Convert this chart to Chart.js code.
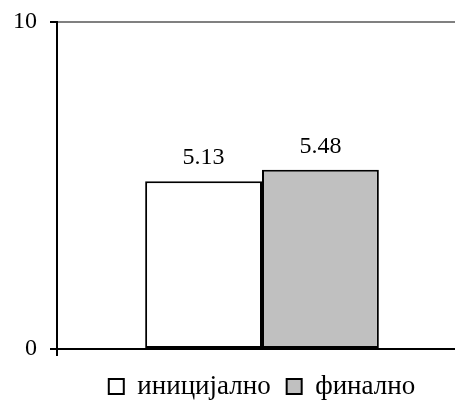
<!DOCTYPE html>
<html>
<head>
<meta charset="utf-8">
<script src="https://cdn.jsdelivr.net/npm/chart.js@4/dist/chart.umd.min.js"></script>
<style>
  html, body { margin: 0; padding: 0; background: #fff; }
  #wrap { width: 455px; height: 401px; overflow: hidden; position: relative; }
  canvas { display: block; }
</style>
</head>
<body>
<div id="wrap">
  <canvas id="myChart" width="467" height="410"></canvas>
</div>
<script>
const categories = [''];
const seriesNames = ['иницијално', 'финално'];
const seriesValues = [[5.13], [5.48]];
const seriesColors = ['#ffffff', '#c0c0c0'];
const yTicks = [0, 10];

const serif = "'Liberation Serif', 'Times New Roman', serif";

// write the value over every bar
const valueLabels = {
  id: 'valueLabels',
  afterDatasetsDraw(chart) {
    const ctx = chart.ctx;
    ctx.save();
    ctx.font = '24px ' + serif;
    ctx.fillStyle = '#000';
    ctx.textAlign = 'center';
    ctx.textBaseline = 'alphabetic';
    chart.data.datasets.forEach((ds, i) => {
      const meta = chart.getDatasetMeta(i);
      meta.data.forEach((bar, j) => {
        ctx.fillText(ds.data[j].toFixed(2), bar.x, bar.y - 17);
      });
    });
    ctx.restore();
  }
};

// center the legend under the plot area instead of the whole canvas
const legendUnderPlot = {
  id: 'legendUnderPlot',
  afterLayout(chart) {
    const lg = chart.legend;
    if (!lg) return;
    const shift = (chart.chartArea.left + chart.chartArea.right) / 2 - (lg.left + lg.right) / 2;
    lg.left += shift;
    lg.right += shift;
  }
};

function initChart(target) {
  const datasets = seriesNames.map((name, i) => ({
    label: name,
    data: seriesValues[i],
    backgroundColor: seriesColors[i],
    borderColor: '#000',
    borderWidth: 2,
    borderSkipped: false,
    categoryPercentage: 0.57,
    barPercentage: 1.0
  }));

  return new Chart(target, {
    type: 'bar',
    data: { labels: categories, datasets: datasets },
    plugins: [valueLabels, legendUnderPlot],
    options: {
      responsive: false,
      animation: false,
      layout: { padding: { left: 0, top: 22, right: 0, bottom: 0 } },
      plugins: {
        tooltip: { enabled: false },
        legend: {
          position: 'bottom',
          labels: {
            boxWidth: 15,
            boxHeight: 15,
            padding: 16,
            color: '#000',
            font: { family: serif, size: 27 }
          }
        }
      },
      scales: {
        x: {
          offset: true,
          ticks: { display: false },
          grid: {
            offset: true,
            drawOnChartArea: false,
            drawTicks: true,
            tickLength: 7,
            color: '#000',
            tickColor: '#000',
            lineWidth: 2
          },
          border: { color: '#000', width: 2 },
          afterFit(scale) { scale.height = 8; }
        },
        y: {
          min: yTicks[0],
          max: yTicks[yTicks.length - 1],
          afterBuildTicks(scale) {
            scale.ticks = yTicks.map(v => ({ value: v }));
          },
          ticks: {
            color: '#000',
            padding: 13,
            font: { family: serif, size: 24, lineHeight: 0.7 }
          },
          grid: {
            color: (c) => (c.tick && c.tick.value === 10 ? '#808080' : 'rgba(0,0,0,0)'),
            tickColor: '#000',
            tickLength: 7,
            lineWidth: 2
          },
          border: { color: '#000', width: 2 },
          afterFit(scale) { scale.width = 57; }
        }
      }
    }
  });
}

document.addEventListener('DOMContentLoaded', () => {
  initChart(document.querySelector('#myChart'));
});
</script>
</body>
</html>
